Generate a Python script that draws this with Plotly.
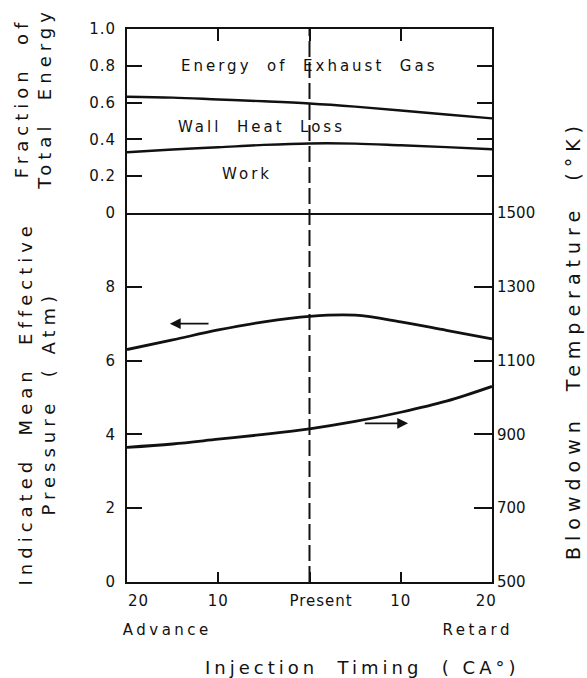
import plotly.graph_objects as go

# ---- data ----
timing = [-20, -15, -10, -5, 0, 5, 10, 15, 20]          # injection timing, CA deg (neg = advance)
tick_pos = [-20, -10, 0, 10, 20]
tick_txt = ["\u00a0\u00a0\u00a0\u00a020", "10", "\u00a0\u00a0\u00a0\u00a0Present", "10", "20\u00a0\u00a0"]

frac_exhaust_boundary = [0.632, 0.627, 0.617, 0.607, 0.595, 0.578, 0.557, 0.535, 0.514]
frac_work_boundary = [0.330, 0.345, 0.357, 0.370, 0.378, 0.377, 0.368, 0.358, 0.346]
imep_atm = [6.30, 6.56, 6.83, 7.05, 7.20, 7.23, 7.05, 6.82, 6.59]
blowdown_temp_K = [865, 874, 887, 900, 915, 935, 960, 990, 1030]

frac_ticks = [0, 0.2, 0.4, 0.6, 0.8, 1.0]
frac_tick_txt = ["0", "0.2", "0.4", "0.6", "0.8", "1.0"]
imep_ticks = [0, 2, 4, 6, 8]
temp_ticks = [500, 700, 900, 1100, 1300, 1500]

FONT = "DejaVu Sans"
BLACK = "#111"
split = 0.6673

fig = go.Figure()
line = dict(color=BLACK, width=2.4, shape="spline", smoothing=1.0)
fig.add_trace(go.Scatter(x=timing, y=frac_exhaust_boundary, xaxis="x2", yaxis="y3",
                         mode="lines", line=line, showlegend=False))
fig.add_trace(go.Scatter(x=timing, y=frac_work_boundary, xaxis="x2", yaxis="y3",
                         mode="lines", line=line, showlegend=False))
fig.add_trace(go.Scatter(x=timing, y=imep_atm, xaxis="x", yaxis="y",
                         mode="lines", line=dict(line, width=2.8), showlegend=False))
fig.add_trace(go.Scatter(x=timing, y=blowdown_temp_K, xaxis="x", yaxis="y2",
                         mode="lines", line=dict(line, width=2.8), showlegend=False))

axcommon = dict(showline=True, linecolor=BLACK, linewidth=2, showgrid=False, zeroline=False,
                ticks="inside", tickcolor=BLACK, tickwidth=2,
                tickfont=dict(family=FONT, size=15, color=BLACK))

fig.update_layout(
    width=587, height=678,
    margin=dict(l=127, r=95, t=29, b=96),
    paper_bgcolor="white", plot_bgcolor="white",
    font=dict(family=FONT, color=BLACK),
    xaxis=dict(axcommon, range=[-20, 20], tickvals=tick_pos, ticktext=tick_txt,
               ticklen=10, anchor="y", domain=[0, 1], ticklabelstandoff=4),
    xaxis2=dict(axcommon, range=[-20, 20], matches="x", anchor="y3", side="top", mirror=True,
                tickvals=tick_pos, showticklabels=False, ticklen=12),
    yaxis=dict(axcommon, domain=[0, split], range=[0, 10], tickvals=imep_ticks,
               ticklen=15, anchor="x", ticklabelstandoff=6),
    yaxis2=dict(axcommon, overlaying="y", side="right", range=[500, 1500],
                tickvals=temp_ticks, ticklen=18, anchor="x", ticklabelstandoff=0),
    yaxis3=dict(axcommon, domain=[split, 1], range=[0, 1], tickvals=frac_ticks,
                ticktext=frac_tick_txt, ticklen=15, mirror="ticks", anchor="x2",
                ticklabelstandoff=6),
)

fig.add_shape(type="line", xref="x", yref="paper", x0=0, x1=0, y0=0, y1=1,
              line=dict(color=BLACK, width=2, dash="16px,5px"))

ann = []
ann.append(dict(text="Energy\u00a0 of\u00a0 Exhaust\u00a0 Gas", x=0, y=0.8, xref="x2", yref="y3",
                showarrow=False, font=dict(size=15)))
ann.append(dict(text="Wall\u00a0 Heat\u00a0 Loss", x=-5.3, y=0.47, xref="x2", yref="y3",
                showarrow=False, font=dict(size=15)))
ann.append(dict(text="Work", x=-6.8, y=0.21, xref="x2", yref="y3",
                showarrow=False, font=dict(size=15)))
# arrows: which axis each curve belongs to
ann.append(dict(text="", x=-15.3, y=7.0, ax=-10.9, ay=7.0, xref="x", yref="y", axref="x", ayref="y",
                showarrow=True, arrowhead=2, arrowsize=1.2, arrowwidth=1.8, arrowcolor=BLACK))
ann.append(dict(text="", x=10.8, y=4.3, ax=5.9, ay=4.3, xref="x", yref="y", axref="x", ayref="y",
                showarrow=True, arrowhead=2, arrowsize=1.2, arrowwidth=1.8, arrowcolor=BLACK))
ann.append(dict(text="Advance", x=0.11, y=-0.087, xref="paper", yref="paper",
                showarrow=False, font=dict(size=15)))
ann.append(dict(text="Retard", x=0.959, y=-0.087, xref="paper", yref="paper",
                showarrow=False, font=dict(size=15)))
ann.append(dict(text="Injection\u00a0\u00a0Timing\u00a0\u00a0(\u00a0CA\u00b0)", x=0.644, y=-0.154,
                xref="paper", yref="paper", showarrow=False, font=dict(size=18)))
ann.append(dict(text="Fraction\u00a0\u00a0of<br>Total\u00a0 Energy", x=-0.2575, y=0.875,
                xref="paper", yref="paper", showarrow=False, textangle=-90, font=dict(size=18)))
ann.append(dict(text="Indicated\u00a0 Mean\u00a0 Effective<br>Pressure\u00a0\u00a0(\u00a0Atm)",
                x=-0.248, y=0.324, xref="paper", yref="paper", showarrow=False, textangle=-90,
                font=dict(size=18)))
ann.append(dict(text="Blowdown\u00a0\u00a0Temperature\u00a0\u00a0(\u00b0K)", x=1.222, y=0.4376,
                xref="paper", yref="paper", showarrow=False, textangle=-90, font=dict(size=19)))
for a in ann:
    a["font"] = dict(a.get("font", {}), family=FONT, color=BLACK)
    if a.get("text"):
        a["xanchor"] = "center"
        a["yanchor"] = "middle"
fig.update_layout(annotations=ann)

post = """
var gd = document.getElementById('{plot_id}');
function spacing(){
  var sp = [3,3,3,0,0,3.5,3.5,4,5,5,6];
  gd.querySelectorAll('g.annotation').forEach(function(g){
    var i = +g.getAttribute('data-index');
    var t = g.querySelector('text.annotation-text');
    if (t && sp[i]) { t.style.letterSpacing = sp[i] + 'px'; }
  });
  gd.querySelectorAll('.xaxislayer-above text, .yaxislayer-above text').forEach(function(t){
    t.style.letterSpacing = '1px';
  });
}
spacing();
gd.on('plotly_afterplot', spacing);
"""
fig.write_html("out.html", post_script=post)
